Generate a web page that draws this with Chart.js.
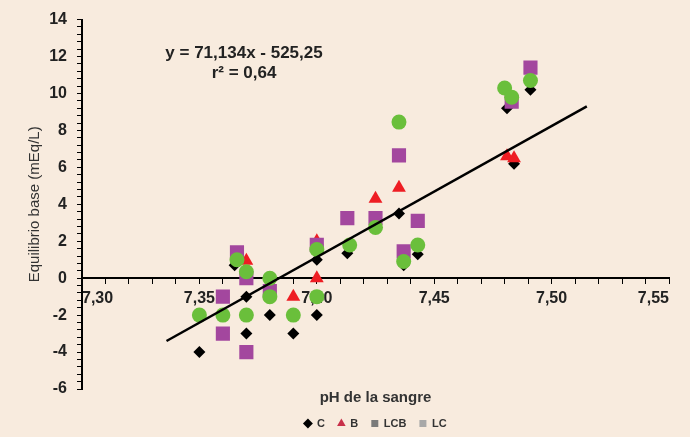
<!DOCTYPE html>
<html>
<head>
<meta charset="utf-8">
<script src="https://cdn.jsdelivr.net/npm/chart.js@4"></script>
<style>
  html, body { margin: 0; background: #f8ebde; }
</style>
</head>
<body>
<canvas id="chart" width="690" height="437"></canvas>
<script>
// C - black diamonds
const xC = [7.350, 7.365, 7.370, 7.370, 7.380, 7.390, 7.400, 7.400, 7.413, 7.435, 7.437, 7.443, 7.481, 7.484, 7.491];
const yC = [-4.0, 0.7, -1.0, -3.0, -2.0, -3.0, -2.0, 1.0, 1.35, 3.5, 0.7, 1.3, 9.2, 6.2, 10.2];
// B - red triangles
const xB = [7.370, 7.380, 7.390, 7.400, 7.400, 7.425, 7.435, 7.481, 7.484];
const yB = [0.95, -0.5, -1.0, 0.0, 2.0, 4.3, 4.9, 6.6, 6.5];
// LCB - purple squares
const xLCB = [7.360, 7.360, 7.366, 7.370, 7.370, 7.380, 7.400, 7.413, 7.425, 7.435, 7.437, 7.443, 7.483, 7.491];
const yLCB = [-1.0, -3.0, 1.4, 0.0, -4.0, -0.7, 1.8, 3.25, 3.25, 6.65, 1.45, 3.1, 9.55, 11.4];
// LC - green circles
const xLC = [7.350, 7.360, 7.366, 7.370, 7.370, 7.380, 7.380, 7.390, 7.400, 7.400, 7.414, 7.425, 7.435, 7.437, 7.443, 7.480, 7.483, 7.491];
const yLC = [-2.0, -2.0, 1.0, 0.35, -2.0, 0.0, -1.0, -2.0, -1.0, 1.55, 1.8, 2.75, 8.45, 0.9, 1.8, 10.3, 9.8, 10.7];
// trend line ends
const trendX = [7.336, 7.515];
const trendY = [-3.4, 9.3];

const eqLines = ['y = 71,134x - 525,25', 'r\u00B2 = 0,64'];
const eqAtX = 7.369;
const eqAtY = [12.2, 11.08];

const legendColors = ['#000000', '#c8304a', '#7a7a7a', '#a8a8a8'];

const pts = (xs, ys) => xs.map((x, i) => ({ x: x, y: ys[i] }));
const FONT = '"Liberation Sans", Arial, sans-serif';

// draws the regression equation
const equationLabel = {
    id: 'equationLabel',
    afterDatasetsDraw(chart) {
        const { ctx, scales } = chart;
        ctx.save();
        ctx.font = 'bold 17px ' + FONT;
        ctx.fillStyle = '#222';
        ctx.textAlign = 'center';
        ctx.textBaseline = 'middle';
        eqLines.forEach((t, i) => {
            ctx.fillText(t, scales.x.getPixelForValue(eqAtX), scales.y.getPixelForValue(eqAtY[i]));
        });
        ctx.restore();
    }
};

const ctx = document.getElementById('chart').getContext('2d');
new Chart(ctx, {
    type: 'scatter',
    data: {
        datasets: [
            { label: 'C', data: pts(xC, yC), pointStyle: 'rectRot', pointRadius: 6,
              backgroundColor: '#000', borderColor: '#000', borderWidth: 0, order: 4 },
            { label: 'B', data: pts(xB, yB), pointStyle: 'triangle', pointRadius: 8,
              backgroundColor: '#ee1d23', borderColor: '#ee1d23', borderWidth: 0, order: 3 },
            { label: 'LCB', data: pts(xLCB, yLCB), pointStyle: 'rect', pointRadius: 10,
              backgroundColor: '#a3479e', borderColor: '#a3479e', borderWidth: 0, order: 2 },
            { label: 'LC', data: pts(xLC, yLC), pointStyle: 'circle', pointRadius: 7.5,
              backgroundColor: '#6abf3b', borderColor: '#6abf3b', borderWidth: 0, order: 1 },
            { label: 'trend', type: 'line', data: pts(trendX, trendY), showLine: true,
              borderColor: '#000', borderWidth: 2.5, pointRadius: 0, order: 0 }
        ]
    },
    options: {
        responsive: false,
        animation: false,
        layout: { padding: { left: 0, top: 18, right: 21, bottom: -2 } },
        scales: {
            x: {
                type: 'linear',
                position: { y: 0 },
                min: 7.30,
                max: 7.55,
                ticks: {
                    stepSize: 0.01,
                    autoSkip: false,
                    maxRotation: 0,
                    align: 'inner',
                    padding: 6,
                    color: '#222',
                    font: { family: FONT, size: 16, weight: 'bold' },
                    callback: (v) => Math.abs(v * 20 - Math.round(v * 20)) < 1e-6 ? v.toFixed(2).replace('.', ',') : ''
                },
                grid: { drawOnChartArea: false, drawTicks: true, tickLength: 5, color: '#000' },
                border: { display: true, color: '#000', width: 2 }
            },
            y: {
                min: -6,
                max: 14,
                afterFit: (scale) => { scale.width = 82; },
                ticks: {
                    stepSize: 0.4,
                    autoSkip: false,
                    padding: 10,
                    color: '#222',
                    font: { family: FONT, size: 16, weight: 'bold' },
                    callback: (v) => Math.abs(v / 2 - Math.round(v / 2)) < 1e-6 ? String(Math.round(v)) : ''
                },
                grid: { drawOnChartArea: false, drawTicks: true, tickLength: 5, color: '#000' },
                border: { display: true, color: '#000', width: 2 },
                title: {
                    display: true,
                    text: 'Equilibrio base (mEq/L)',
                    color: '#333',
                    padding: { top: 26, bottom: 0 },
                    font: { family: FONT, size: 15 }
                }
            }
        },
        plugins: {
            title: {
                display: true,
                text: 'pH de la sangre',
                position: 'bottom',
                fullSize: false,
                weight: 500,
                color: '#333',
                padding: { top: 1, bottom: 0 },
                font: { family: FONT, size: 15, weight: 'bold', lineHeight: 1 }
            },
            legend: {
                position: 'bottom',
                fullSize: false,
                weight: 1000,
                labels: {
                    usePointStyle: true,
                    boxWidth: 7,
                    boxHeight: 7,
                    padding: 13,
                    color: '#333',
                    font: { family: FONT, size: 11, weight: 'bold' },
                    sort: (a, b) => a.datasetIndex - b.datasetIndex,
                    generateLabels: (chart) => {
                        const items = Chart.defaults.plugins.legend.labels.generateLabels(chart);
                        return items.filter(it => it.datasetIndex < 4).map(it => {
                            it.fillStyle = legendColors[it.datasetIndex];
                            it.strokeStyle = legendColors[it.datasetIndex];
                            if (it.datasetIndex === 3) it.pointStyle = 'rect';
                            return it;
                        });
                    }
                }
            },
            tooltip: { enabled: false }
        }
    },
    plugins: [equationLabel]
});
</script>
</body>
</html>
